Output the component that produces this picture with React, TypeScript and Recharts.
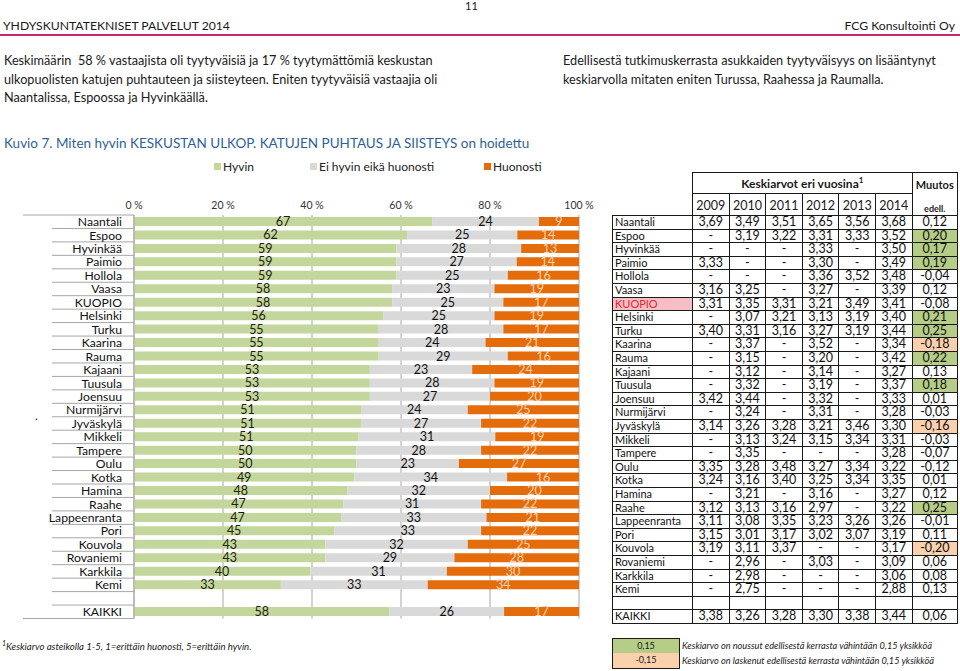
import React from "react";
import { BarChart, Bar, XAxis, YAxis, CartesianGrid, LabelList } from "recharts";

const FONT = "Lato, 'Noto Sans', sans-serif";

// ---------- chart data ----------
const categories = [
  "Naantali", "Espoo", "Hyvinkää", "Paimio", "Hollola", "Vaasa", "KUOPIO", "Helsinki", "Turku", "Kaarina",
  "Rauma", "Kajaani", "Tuusula", "Joensuu", "Nurmijärvi", "Jyväskylä", "Mikkeli", "Tampere", "Oulu", "Kotka",
  "Hamina", "Raahe", "Lappeenranta", "Pori", "Kouvola", "Rovaniemi", "Karkkila", "Kemi", "", "KAIKKI",
];
const hyvin = [67, 62, 59, 59, 59, 58, 58, 56, 55, 55, 55, 53, 53, 53, 51, 51, 51, 50, 50, 49, 48, 47, 47, 45, 43, 43, 40, 33, null, 58];
const eiHyvin = [24, 25, 28, 27, 25, 23, 25, 25, 28, 24, 29, 23, 28, 27, 24, 27, 31, 28, 23, 34, 32, 31, 33, 33, 32, 29, 31, 33, null, 26];
const huonosti = [9, 14, 13, 14, 16, 19, 17, 19, 17, 21, 16, 24, 19, 20, 25, 22, 19, 22, 27, 16, 20, 22, 21, 22, 25, 28, 30, 34, null, 17];
const axisTicks = [0, 0.2, 0.4, 0.6, 0.8, 1];

const seriesNames = ["Hyvin", "Ei hyvin eikä huonosti", "Huonosti"];
const seriesKeys = ["g", "n", "h"];
const seriesColors = ["#c3d69b", "#d9d9d9", "#e46c0a"];
const labelColors = ["#1c2410", "#111111", "#fbd3b2"];

// ---------- table data ----------
const years = ["2009", "2010", "2011", "2012", "2013", "2014"];
const v2009 = [3.69, null, null, 3.33, null, 3.16, 3.31, null, 3.40, null, null, null, null, 3.42, null, 3.14, null, null, 3.35, 3.24, null, 3.12, 3.11, 3.15, 3.19, null, null, null, undefined, 3.38];
const v2010 = [3.49, 3.19, null, null, null, 3.25, 3.35, 3.07, 3.31, 3.37, 3.15, 3.12, 3.32, 3.44, 3.24, 3.26, 3.13, 3.35, 3.28, 3.16, 3.21, 3.13, 3.08, 3.01, 3.11, 2.96, 2.98, 2.75, undefined, 3.26];
const v2011 = [3.51, 3.22, null, null, null, null, 3.31, 3.21, 3.16, null, null, null, null, null, null, 3.28, 3.24, null, 3.48, 3.40, null, 3.16, 3.35, 3.17, 3.37, null, null, null, undefined, 3.28];
const v2012 = [3.65, 3.31, 3.33, 3.30, 3.36, 3.27, 3.21, 3.13, 3.27, 3.52, 3.20, 3.14, 3.19, 3.32, 3.31, 3.21, 3.15, null, 3.27, 3.25, 3.16, 2.97, 3.23, 3.02, null, 3.03, null, null, undefined, 3.30];
const v2013 = [3.56, 3.33, null, null, 3.52, null, 3.49, 3.19, 3.19, null, null, null, null, null, null, 3.46, 3.34, null, 3.34, 3.34, null, null, 3.26, 3.07, null, null, null, null, undefined, 3.38];
const v2014 = [3.68, 3.52, 3.50, 3.49, 3.48, 3.39, 3.41, 3.40, 3.44, 3.34, 3.42, 3.27, 3.37, 3.33, 3.28, 3.30, 3.31, 3.28, 3.22, 3.35, 3.27, 3.22, 3.26, 3.19, 3.17, 3.09, 3.06, 2.88, undefined, 3.44];
const muutos = [0.12, 0.20, 0.17, 0.19, -0.04, 0.12, -0.08, 0.21, 0.25, -0.18, 0.22, 0.13, 0.18, 0.01, -0.03, -0.16, -0.03, -0.07, -0.12, 0.01, 0.12, 0.25, -0.01, 0.11, -0.20, 0.06, 0.08, 0.13, undefined, 0.06];
const yearCols = [v2009, v2010, v2011, v2012, v2013, v2014];

// ---------- texts ----------
const headerLeft = "YHDYSKUNTATEKNISET PALVELUT 2014";
const headerRight = "FCG Konsultointi Oy";
const pageNumber = "11";
const leftParagraph = [
  "Keskimäärin  58 % vastaajista oli tyytyväisiä ja 17 % tyytymättömiä keskustan",
  "ulkopuolisten katujen puhtauteen ja siisteyteen. Eniten tyytyväisiä vastaajia oli",
  "Naantalissa, Espoossa ja Hyvinkäällä.",
];
const rightParagraph = [
  "Edellisestä tutkimuskerrasta asukkaiden tyytyväisyys on lisääntynyt",
  "keskiarvolla mitaten eniten Turussa, Raahessa ja Raumalla.",
];
const title = "Kuvio 7. Miten hyvin KESKUSTAN ULKOP. KATUJEN PUHTAUS JA SIISTEYS on hoidettu";
const footnote = "Keskiarvo asteikolla 1-5, 1=erittäin huonosti, 5=erittäin hyvin.";
const legendUp = "Keskiarvo on noussut edellisestä kerrasta vähintään 0,15 yksikköä";
const legendDown = "Keskiarvo on laskenut edellisestä kerrasta vähintään 0,15 yksikköä";

const data = categories.map((name, i) => ({ name, g: hyvin[i], n: eiHyvin[i], h: huonosti[i] }));

// ---------- layout constants ----------
const PLOT_TOP = 215;
const PLOT_BOTTOM = 618.5;
const BAND = (PLOT_BOTTOM - PLOT_TOP) / categories.length;

function CatTick(props: any) {
  const { x, y, payload, index } = props;
  const last = index === categories.length - 1;
  return (
    <g>
      {index === 0 && (
        <line x1={23} x2={134} y1={y - BAND / 2} y2={y - BAND / 2} stroke="#a6a6a6" strokeWidth={1} />
      )}
      <line x1={last ? 23 : 52} x2={134} y1={y + BAND / 2} y2={y + BAND / 2} stroke="#a6a6a6" strokeWidth={1} />
      <text x={x} y={y} dy="0.36em" textAnchor="end" fontSize={12.2} fill="#111" fontFamily={FONT}>
        {payload.value}
      </text>
    </g>
  );
}

const makeLabel = (color: string) => (p: any) => {
  const { x, y, width, height, value } = p;
  if (value == null || value === "") return null;
  return (
    <text
      x={Number(x) + Number(width) / 2}
      y={Number(y) + Number(height) / 2}
      dy="0.36em"
      textAnchor="middle"
      fill={color}
      fontSize={12.5}
      fontFamily={FONT}
    >
      {value}
    </text>
  );
};

const fmt = (v: number | null | undefined) => (v === undefined ? "" : v === null ? "-" : v.toFixed(2).replace(".", ","));

const colX = [612, 692, 728.6, 765.2, 801.8, 838.4, 875, 911.6, 958];
const ROW_TOP = 215;
const ROW_H = (623 - 215) / categories.length;

function Table() {
  const cells: React.ReactNode[] = [];
  const line = "1px solid #1a1a1a";
  cells.push(
    <div key="hdr" style={{ position: "absolute", left: colX[1], top: 172, width: colX[7] - colX[1], height: 21, borderTop: line, borderLeft: line, boxSizing: "border-box", display: "flex", alignItems: "center", justifyContent: "center", fontWeight: 700, fontSize: 12 }}>
      <span>Keskiarvot eri vuosina<sup style={{ fontSize: 8 }}>1</sup></span>
    </div>
  );
  cells.push(
    <div key="muu" style={{ position: "absolute", left: colX[7], top: 172, width: colX[8] - colX[7], height: ROW_TOP - 172, borderTop: line, borderLeft: line, borderRight: line, boxSizing: "border-box", fontWeight: 700 }}>
      <div style={{ position: "absolute", top: 5, width: "100%", textAlign: "center", fontSize: 11 }}>Muutos</div>
      <div style={{ position: "absolute", top: 30, width: "100%", textAlign: "center", fontSize: 9 }}>edell.</div>
    </div>
  );
  years.forEach((yr, j) => {
    cells.push(
      <div key={"yr" + j} style={{ position: "absolute", left: colX[j + 1], top: 193, width: colX[j + 2] - colX[j + 1], height: ROW_TOP - 193, borderTop: line, borderLeft: line, boxSizing: "border-box", display: "flex", alignItems: "flex-end", justifyContent: "center", fontSize: 12.5, lineHeight: "18px" }}>
        {yr}
      </div>
    );
  });
  categories.forEach((name, i) => {
    const top = ROW_TOP + i * ROW_H;
    const blank = name === "";
    const isK = name === "KUOPIO";
    cells.push(
      <div key={"n" + i} style={{ position: "absolute", left: colX[0], top, width: colX[1] - colX[0], height: ROW_H, borderTop: line, borderLeft: line, boxSizing: "border-box", fontSize: 11, lineHeight: ROW_H - 1 + "px", paddingLeft: 2, background: isK ? "#f6bfc7" : undefined, color: isK ? "#e3262f" : "#111" }}>
        {name}
      </div>
    );
    yearCols.forEach((col, j) => {
      cells.push(
        <div key={"c" + i + "_" + j} style={{ position: "absolute", left: colX[j + 1], top, width: colX[j + 2] - colX[j + 1], height: ROW_H, borderTop: line, borderLeft: line, boxSizing: "border-box", fontSize: 12.5, lineHeight: ROW_H - 1 + "px", textAlign: "center", color: "#111" }}>
          {blank ? "" : fmt(col[i])}
        </div>
      );
    });
    const m = muutos[i];
    const bg = m === undefined ? undefined : m >= 0.15 ? "#b5cd87" : m <= -0.15 ? "#fbd0ad" : undefined;
    cells.push(
      <div key={"m" + i} style={{ position: "absolute", left: colX[7], top, width: colX[8] - colX[7], height: ROW_H, borderTop: line, borderLeft: line, borderRight: line, boxSizing: "border-box", fontSize: 12.5, lineHeight: ROW_H - 1 + "px", textAlign: "center", background: bg, color: "#111" }}>
        {blank ? "" : fmt(m)}
      </div>
    );
  });
  cells.push(
    <div key="bottom" style={{ position: "absolute", left: colX[0], top: 623, width: colX[8] - colX[0], height: 1, background: "#1a1a1a" }} />
  );
  return <>{cells}</>;
}

const abs = (left: number, top: number, extra: React.CSSProperties = {}): React.CSSProperties => ({
  position: "absolute",
  left,
  top,
  whiteSpace: "pre",
  ...extra,
});

export default function App() {
  return (
    <div style={{ position: "absolute", left: 0, top: 0, width: 960, height: 671, overflow: "hidden", background: "#fff", fontFamily: FONT, color: "#1a1a1a" }}>
      {/* page header */}
      <div style={abs(465, 0, { fontSize: 11, lineHeight: "12px" })}>{pageNumber}</div>
      <div style={abs(3, 19, { fontSize: 12.2, lineHeight: "14px" })}>{headerLeft}</div>
      <div style={{ position: "absolute", right: 5, top: 19, fontSize: 12.2, lineHeight: "14px" }}>{headerRight}</div>
      <div style={{ position: "absolute", left: 0, top: 34, width: 960, height: 2, background: "#c8286e" }} />

      {leftParagraph.map((t, i) => (
        <div key={"lp" + i} style={abs(4, 51 + i * 18.5, { fontSize: 12.7, lineHeight: "18px" })}>{t}</div>
      ))}
      {rightParagraph.map((t, i) => (
        <div key={"rp" + i} style={abs(563, 51 + i * 18.5, { fontSize: 12.7, lineHeight: "18px" })}>{t}</div>
      ))}

      <div style={abs(4, 134, { fontSize: 13.5, lineHeight: "18px", color: "#2f5f98" })}>{title}</div>

      {/* legend */}
      {[
        [214, 223],
        [310, 319],
        [484, 493],
      ].map((pos, i) => (
        <React.Fragment key={"lg" + i}>
          <div style={{ position: "absolute", left: pos[0], top: 163, width: 7, height: 7, background: seriesColors[i] }} />
          <div style={abs(pos[1], 158, { fontSize: 12, lineHeight: "17px", color: "#222" })}>{seriesNames[i]}</div>
        </React.Fragment>
      ))}

      <div style={abs(35, 409, { fontSize: 12, lineHeight: "14px" })}>.</div>

      <div style={{ position: "absolute", left: 0, top: 0 }}>
        <BarChart
          width={960}
          height={671}
          data={data}
          layout="vertical"
          stackOffset="expand"
          barSize={9}
          margin={{ top: 195, right: 381, bottom: 671 - PLOT_BOTTOM, left: 0 }}
        >
          <CartesianGrid horizontal={false} vertical={true} stroke="#a6a6a6" />
          <XAxis
            type="number"
            orientation="top"
            height={20}
            domain={[0, 1]}
            ticks={axisTicks}
            tickFormatter={(v: number) => `${Math.round(v * 100)} %`}
            axisLine={false}
            tickLine={false}
            tickSize={0}
            tickMargin={6}
            tick={{ fontSize: 10.5, fill: "#333", fontFamily: FONT }}
          />
          <YAxis
            type="category"
            dataKey="name"
            width={134}
            interval={0}
            tickLine={false}
            tickSize={0}
            tickMargin={12}
            axisLine={{ stroke: "#a6a6a6" }}
            tick={<CatTick />}
          />
          {seriesKeys.map((k, i) => (
            <Bar key={k} dataKey={k} name={seriesNames[i]} stackId="a" fill={seriesColors[i]} isAnimationActive={false}>
              <LabelList dataKey={k} content={makeLabel(labelColors[i])} />
            </Bar>
          ))}
        </BarChart>
      </div>

      <Table />

      {/* footnote */}
      <div style={abs(2, 636, { fontSize: 9.6, lineHeight: "14px", fontStyle: "italic" })}>
        <sup style={{ fontSize: 7 }}>1</sup>
        {footnote}
      </div>

      {/* change legend */}
      <div style={{ position: "absolute", left: 612, top: 638, width: 68, height: 15.5, background: "#b5cd87", border: "1px solid #1a1a1a", boxSizing: "border-box", fontSize: 9, lineHeight: "13px", textAlign: "center" }}>0,15</div>
      <div style={{ position: "absolute", left: 612, top: 653, width: 68, height: 16, background: "#fbd0ad", border: "1px solid #1a1a1a", borderTop: "none", boxSizing: "border-box", fontSize: 9, lineHeight: "14px", textAlign: "center" }}>-0,15</div>
      <div style={abs(682, 639, { fontSize: 9.2, lineHeight: "14px", fontStyle: "italic" })}>{legendUp}</div>
      <div style={abs(682, 654, { fontSize: 9.2, lineHeight: "14px", fontStyle: "italic" })}>{legendDown}</div>
    </div>
  );
}
